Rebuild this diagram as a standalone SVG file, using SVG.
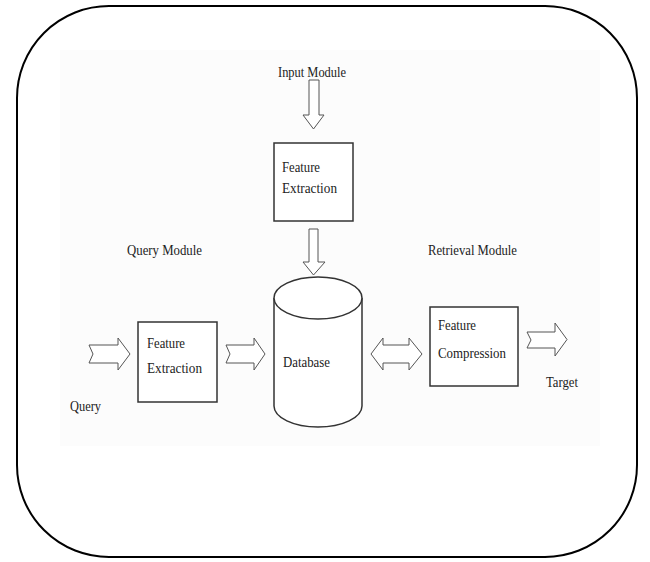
<svg xmlns="http://www.w3.org/2000/svg" width="650" height="562" viewBox="0 0 650 562">
<style>
.box{fill:#fff;stroke:#333;stroke-width:1.5}
.arr{fill:#fff;stroke:#555;stroke-width:1}
.t{font-family:'Liberation Serif','Times New Roman',Times,serif;font-size:14px;fill:#222}
</style>
<rect width="650" height="562" fill="#fff"/>
<rect x="17" y="6" width="620" height="551" rx="92" ry="92" fill="#fff" stroke="#000" stroke-width="2"/>
<rect x="60" y="50" width="540" height="396" fill="#fcfcfc"/>
<g id="input-label"><text class="t" x="278" y="77" textLength="68" lengthAdjust="spacingAndGlyphs">Input Module</text></g>
<g id="fe-input">
<rect class="box" x="274" y="143" width="79" height="78"/>
<text class="t" x="282" y="172" textLength="38" lengthAdjust="spacingAndGlyphs">Feature</text>
<text class="t" x="282" y="193" textLength="55" lengthAdjust="spacingAndGlyphs">Extraction</text>
</g>
<g id="database">
<path class="box" d="M274,298 L274,406 A44,21 0 0 0 362,406 L362,298"/>
<ellipse class="box" cx="318" cy="298" rx="44" ry="21"/>
<text class="t" x="283" y="367" textLength="47" lengthAdjust="spacingAndGlyphs">Database</text>
</g>
<g id="query-label"><text class="t" x="127" y="255" textLength="75" lengthAdjust="spacingAndGlyphs">Query Module</text></g>
<g id="fe-query">
<rect class="box" x="138" y="322" width="79" height="80"/>
<text class="t" x="147" y="348" textLength="38" lengthAdjust="spacingAndGlyphs">Feature</text>
<text class="t" x="147" y="373" textLength="55" lengthAdjust="spacingAndGlyphs">Extraction</text>
</g>
<g id="query-text"><text class="t" x="70" y="411" textLength="31" lengthAdjust="spacingAndGlyphs">Query</text></g>
<g id="retrieval-label"><text class="t" x="428" y="255" textLength="89" lengthAdjust="spacingAndGlyphs">Retrieval Module</text></g>
<g id="fc">
<rect class="box" x="430" y="307" width="88" height="79"/>
<text class="t" x="438" y="330" textLength="38" lengthAdjust="spacingAndGlyphs">Feature</text>
<text class="t" x="438" y="358" textLength="68" lengthAdjust="spacingAndGlyphs">Compression</text>
</g>
<g id="target-text"><text class="t" x="546" y="387" textLength="32" lengthAdjust="spacingAndGlyphs">Target</text></g>
<g id="connectors">
<polygon class="arr" points="309,80 319,80 319,115 324,115 313.5,129 303,115 309,115"/>
<polygon class="arr" points="309,229 318,229 318,262 325,262 313.5,275 303,262 309,262"/>
<polygon class="arr" points="89,345 118,345 118,338 130,354 118,370 118,363 89,363 93,354"/>
<polygon class="arr" points="226,345 254,345 254,338 265,354 254,370 254,363 226,363 230,354"/>
<polygon class="arr" points="371,354 383,338 383,345 409,345 409,338 422,354 409,370 409,363 383,363 383,370"/>
<polygon class="arr" points="527,332 555,332 555,323 567,339.5 555,356 555,348 527,348 531,340"/>
</g>
</svg>
